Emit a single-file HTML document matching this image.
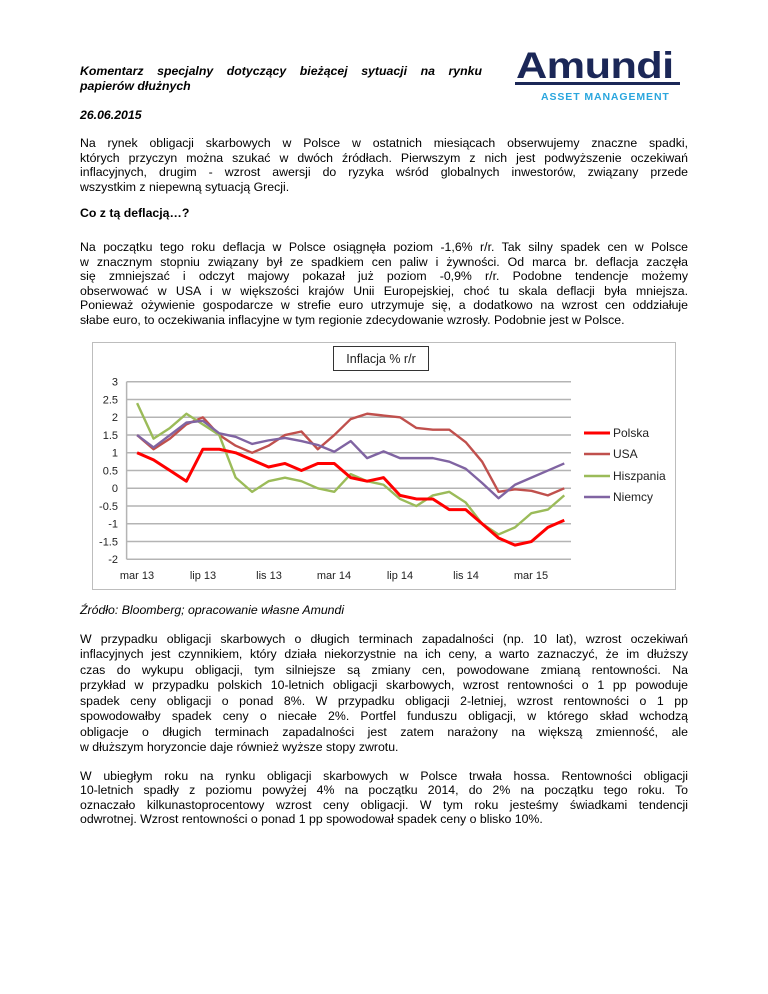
<!DOCTYPE html>
<html><head><meta charset="utf-8">
<style>
html,body{margin:0;padding:0;background:#fff;}
body{width:768px;height:994px;position:relative;overflow:hidden;font-family:"Liberation Sans",Arial,sans-serif;color:#000;}
.l{position:absolute;left:80px;width:608px;height:16px;line-height:16px;font-size:12.3px;white-space:nowrap;text-align:justify;text-align-last:justify;}
.n{text-align:left;text-align-last:left;}
.bi{font-weight:bold;font-style:italic;}
.b{font-weight:bold;}
</style></head><body>

<div class="l bi" style="top:63px;width:402px;">Komentarz specjalny dotyczący bieżącej sytuacji na rynku</div>
<div class="l bi n" style="top:78px;">papierów dłużnych</div>
<div class="l bi n" style="top:107px;">26.06.2015</div>

<div style="position:absolute;left:516px;top:49px;width:165px;height:34px;overflow:visible;">
  <div style="font-family:'Liberation Sans',Arial,sans-serif;font-weight:bold;font-size:37px;line-height:34px;color:#1b2757;transform:scaleX(1.17);transform-origin:left top;letter-spacing:-0.5px;">Amundi</div>
</div>
<div style="position:absolute;left:515px;top:82px;width:165px;height:3px;background:#1b2757;"></div>
<div style="position:absolute;left:541px;top:91px;font-size:10.5px;line-height:12px;font-weight:bold;color:#2aa6de;white-space:nowrap;letter-spacing:0.9px;">ASSET MANAGEMENT</div>

<div class="l" style="top:135px;">Na rynek obligacji skarbowych w Polsce w ostatnich miesiącach obserwujemy znaczne spadki,</div>
<div class="l" style="top:150px;">których przyczyn można szukać w dwóch źródłach. Pierwszym z nich jest podwyższenie oczekiwań</div>
<div class="l" style="top:164px;">inflacyjnych, drugim - wzrost awersji do ryzyka wśród globalnych inwestorów, związany przede</div>
<div class="l n" style="top:179px;">wszystkim z niepewną sytuacją Grecji.</div>

<div class="l b n" style="top:205px;">Co z tą deflacją…?</div>

<div class="l" style="top:239px;">Na początku tego roku deflacja w Polsce osiągnęła poziom -1,6% r/r. Tak silny spadek cen w Polsce</div>
<div class="l" style="top:254px;">w znacznym stopniu związany był ze spadkiem cen paliw i żywności. Od marca br. deflacja zaczęła</div>
<div class="l" style="top:268px;">się zmniejszać i odczyt majowy pokazał już poziom -0,9% r/r. Podobne tendencje możemy</div>
<div class="l" style="top:283px;">obserwować w USA i w większości krajów Unii Europejskiej, choć tu skala deflacji była mniejsza.</div>
<div class="l" style="top:297px;">Ponieważ ożywienie gospodarcze w strefie euro utrzymuje się, a dodatkowo na wzrost cen oddziałuje</div>
<div class="l n" style="top:312px;">słabe euro, to oczekiwania inflacyjne w tym regionie zdecydowanie wzrosły. Podobnie jest w Polsce.</div>

<svg style="position:absolute;left:0;top:0;" width="768" height="994" xmlns="http://www.w3.org/2000/svg" font-family="Liberation Sans, Arial, sans-serif">
  <rect x="92.5" y="342.5" width="583" height="247" fill="#fff" stroke="#bdbdbd" stroke-width="1"/>
  <rect x="333.5" y="346.5" width="95" height="24" fill="#fff" stroke="#333" stroke-width="1"/>
  <text x="381" y="363" font-size="12.5" text-anchor="middle" fill="#222">Inflacja % r/r</text>
  <g stroke="#b4b4b4" stroke-width="1.5">
    <line x1="126.6" x2="571" y1="381.8" y2="381.8"/>
    <line x1="126.6" x2="571" y1="399.55" y2="399.55"/>
    <line x1="126.6" x2="571" y1="417.3" y2="417.3"/>
    <line x1="126.6" x2="571" y1="435.05" y2="435.05"/>
    <line x1="126.6" x2="571" y1="452.8" y2="452.8"/>
    <line x1="126.6" x2="571" y1="470.55" y2="470.55"/>
    <line x1="126.6" x2="571" y1="488.3" y2="488.3"/>
    <line x1="126.6" x2="571" y1="506.05" y2="506.05"/>
    <line x1="126.6" x2="571" y1="523.8" y2="523.8"/>
    <line x1="126.6" x2="571" y1="541.55" y2="541.55"/>
    <line x1="126.6" x2="571" y1="559.3" y2="559.3"/>
    <line x1="126.6" x2="126.6" y1="381.8" y2="559.3"/>
  </g>
  <g font-size="11" fill="#222" text-anchor="end">
    <text x="118" y="385.5">3</text>
    <text x="118" y="403.3">2.5</text>
    <text x="118" y="421">2</text>
    <text x="118" y="438.8">1.5</text>
    <text x="118" y="456.5">1</text>
    <text x="118" y="474.3">0.5</text>
    <text x="118" y="492">0</text>
    <text x="118" y="509.8">-0.5</text>
    <text x="118" y="527.5">-1</text>
    <text x="118" y="545.3">-1.5</text>
    <text x="118" y="563">-2</text>
  </g>
  <g font-size="11" fill="#222" text-anchor="middle">
    <text x="137" y="579">mar 13</text>
    <text x="203" y="579">lip 13</text>
    <text x="269" y="579">lis 13</text>
    <text x="334" y="579">mar 14</text>
    <text x="400" y="579">lip 14</text>
    <text x="466" y="579">lis 14</text>
    <text x="531" y="579">mar 15</text>
  </g>
  <g transform="translate(137.1,488.3) scale(16.43,-35.5)" fill="none" stroke-linejoin="round">
    <polyline vector-effect="non-scaling-stroke" stroke="#c0504d" stroke-width="2.4" points="0,1.5 1,1.1 2,1.4 3,1.8 4,2.0 5,1.5 6,1.2 7,1.0 8,1.2 9,1.5 10,1.6 11,1.1 12,1.5 13,1.95 14,2.1 15,2.05 16,2.0 17,1.7 18,1.65 19,1.65 20,1.3 21,0.75 22,-0.1 23,-0.03 24,-0.07 25,-0.2 26,0.0"/>
    <polyline vector-effect="non-scaling-stroke" stroke="#9bbb59" stroke-width="2.4" points="0,2.4 1,1.4 2,1.7 3,2.1 4,1.8 5,1.5 6,0.3 7,-0.1 8,0.2 9,0.3 10,0.2 11,0.0 12,-0.1 13,0.4 14,0.2 15,0.1 16,-0.3 17,-0.5 18,-0.2 19,-0.1 20,-0.4 21,-1.0 22,-1.3 23,-1.1 24,-0.7 25,-0.6 26,-0.2"/>
    <polyline vector-effect="non-scaling-stroke" stroke="#8064a2" stroke-width="2.4" points="0,1.5 1,1.15 2,1.5 3,1.85 4,1.9 5,1.55 6,1.45 7,1.25 8,1.35 9,1.42 10,1.33 11,1.22 12,1.03 13,1.33 14,0.85 15,1.04 16,0.85 17,0.85 18,0.85 19,0.75 20,0.55 21,0.15 22,-0.28 23,0.1 24,0.3 25,0.5 26,0.7"/>
    <polyline vector-effect="non-scaling-stroke" stroke="#ff0000" stroke-width="3" points="0,1.0 1,0.8 2,0.5 3,0.2 4,1.1 5,1.1 6,1.0 7,0.8 8,0.6 9,0.7 10,0.5 11,0.7 12,0.7 13,0.3 14,0.2 15,0.3 16,-0.2 17,-0.3 18,-0.3 19,-0.6 20,-0.6 21,-1.0 22,-1.4 23,-1.6 24,-1.5 25,-1.1 26,-0.9"/>
  </g>
  <line x1="584" x2="610" y1="433" y2="433" stroke="#ff0000" stroke-width="3"/>
  <line x1="584" x2="610" y1="454" y2="454" stroke="#c0504d" stroke-width="2.4"/>
  <line x1="584" x2="610" y1="476" y2="476" stroke="#9bbb59" stroke-width="2.4"/>
  <line x1="584" x2="610" y1="497" y2="497" stroke="#8064a2" stroke-width="2.4"/>
  <g font-size="12" fill="#222">
    <text x="613" y="437">Polska</text>
    <text x="613" y="458">USA</text>
    <text x="613" y="480">Hiszpania</text>
    <text x="613" y="501">Niemcy</text>
  </g>
</svg>

<div class="l n" style="top:602px;font-style:italic;">Źródło: Bloomberg; opracowanie własne Amundi</div>

<div class="l" style="top:631px;">W przypadku obligacji skarbowych o długich terminach zapadalności (np. 10 lat), wzrost oczekiwań</div>
<div class="l" style="top:646px;">inflacyjnych jest czynnikiem, który działa niekorzystnie na ich ceny, a warto zaznaczyć, że im dłuższy</div>
<div class="l" style="top:662px;">czas do wykupu obligacji, tym silniejsze są zmiany cen, powodowane zmianą rentowności. Na</div>
<div class="l" style="top:677px;">przykład w przypadku polskich 10-letnich obligacji skarbowych, wzrost rentowności o 1 pp powoduje</div>
<div class="l" style="top:693px;">spadek ceny obligacji o ponad 8%. W przypadku obligacji 2-letniej, wzrost rentowności o 1 pp</div>
<div class="l" style="top:708px;">spowodowałby spadek ceny o niecałe 2%. Portfel funduszu obligacji, w którego skład wchodzą</div>
<div class="l" style="top:724px;">obligacje o długich terminach zapadalności jest zatem narażony na większą zmienność, ale</div>
<div class="l n" style="top:739px;">w dłuższym horyzoncie daje również wyższe stopy zwrotu.</div>

<div class="l" style="top:768px;">W ubiegłym roku na rynku obligacji skarbowych w Polsce trwała hossa. Rentowności obligacji</div>
<div class="l" style="top:782px;">10-letnich spadły z poziomu powyżej 4% na początku 2014, do 2% na początku tego roku. To</div>
<div class="l" style="top:797px;">oznaczało kilkunastoprocentowy wzrost ceny obligacji. W tym roku jesteśmy świadkami tendencji</div>
<div class="l n" style="top:811px;">odwrotnej. Wzrost rentowności o ponad 1 pp spowodował spadek ceny o blisko 10%.</div>

</body></html>
